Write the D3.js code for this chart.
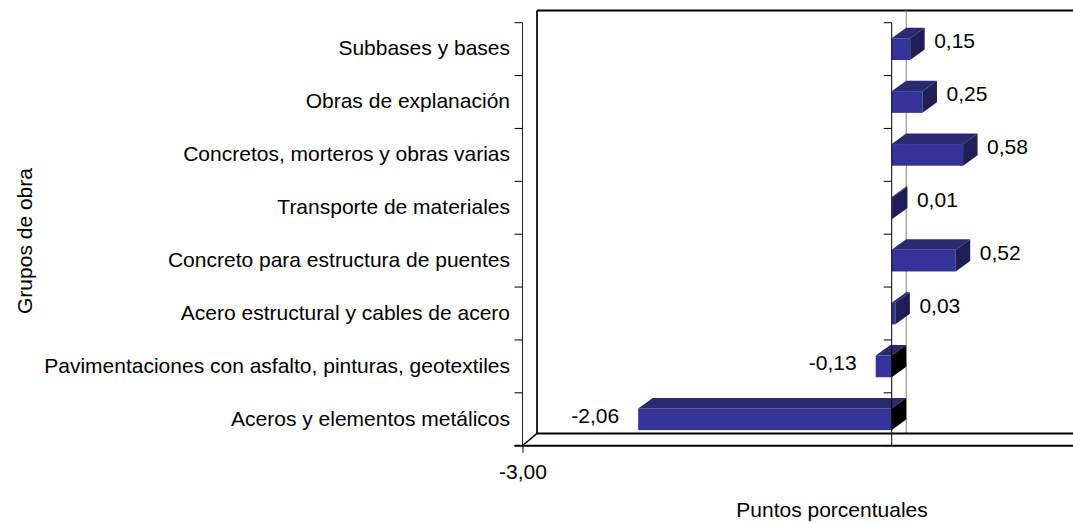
<!DOCTYPE html>
<html>
<head>
<meta charset="utf-8">
<script src="https://cdn.jsdelivr.net/npm/d3@7"></script>
<style>
  body { margin: 0; background: #fff; }
  svg { display: block; }
  text { font-family: "Liberation Sans", Arial, sans-serif; fill: #000; }
</style>
</head>
<body>
<svg width="1073" height="523"></svg>
<script>
var categories = [
  "Subbases y bases",
  "Obras de explanación",
  "Concretos, morteros y obras varias",
  "Transporte de materiales",
  "Concreto para estructura de puentes",
  "Acero estructural y cables de acero",
  "Pavimentaciones con asfalto, pinturas, geotextiles",
  "Aceros y elementos metálicos"
];
var values = [0.15, 0.25, 0.58, 0.01, 0.52, 0.03, -0.13, -2.06];
var xTicks = [-3];
var xTitle = "Puntos porcentuales";
var yTitle = "Grupos de obra";

var svg = d3.select("svg"),
    plot = {left: 522.5, top: 22.7, bottom: 445.7},
    depth = {dx: 14.5, dy: -12.3},   // walls / floor
    barDepth = {dx: 14.5, dy: -10.5},
    fontSize = 21;

var locale = d3.formatLocale({decimal: ",", thousands: ".", grouping: [3], currency: ["$", ""], minus: "-"});
var fmt = locale.format(".2f");

var x = d3.scaleLinear().domain([-3, 1.5]).range([plot.left, plot.left + 4.5 * 123.07]);
var y = d3.scaleBand().domain(categories).range([plot.top, plot.bottom])
    .paddingInner(0.59).paddingOuter(0.295);

var right = 1080;

// back wall
svg.append("line")
    .attr("x1", plot.left + depth.dx).attr("x2", right)
    .attr("y1", plot.top + depth.dy).attr("y2", plot.top + depth.dy)
    .attr("stroke", "#000").attr("stroke-width", 2);
svg.append("line")
    .attr("x1", plot.left + depth.dx).attr("x2", plot.left + depth.dx)
    .attr("y1", plot.top + depth.dy).attr("y2", plot.bottom + depth.dy)
    .attr("stroke", "#000").attr("stroke-width", 1.7);

// zero gridline on back wall
svg.append("line")
    .attr("x1", x(0) + depth.dx).attr("x2", x(0) + depth.dx)
    .attr("y1", plot.top + depth.dy).attr("y2", plot.bottom + depth.dy)
    .attr("stroke", "#808080").attr("stroke-width", 1);

// floor
svg.append("line")
    .attr("x1", plot.left + depth.dx).attr("x2", right)
    .attr("y1", plot.bottom + depth.dy).attr("y2", plot.bottom + depth.dy)
    .attr("stroke", "#000").attr("stroke-width", 2);
svg.append("line")
    .attr("x1", plot.left).attr("x2", plot.left + depth.dx)
    .attr("y1", plot.bottom).attr("y2", plot.bottom + depth.dy)
    .attr("stroke", "#000").attr("stroke-width", 1.5);

// bars
var bars = svg.selectAll(".bar")
    .data(categories.map(function(c, i) { return {cat: c, v: values[i]}; }))
  .enter().append("g")
    .attr("class", "bar");

bars.each(function(d) {
  var g = d3.select(this),
      x0 = x(Math.min(0, d.v)),
      x1 = x(Math.max(0, d.v)),
      y0 = y(d.cat),
      h = y.bandwidth(),
      dx = barDepth.dx, dy = barDepth.dy;
  g.append("rect")
      .attr("x", x0).attr("y", y0)
      .attr("width", x1 - x0).attr("height", h)
      .attr("fill", "#333399");
  g.append("polygon")
      .attr("points", [[x0, y0], [x0 + dx, y0 + dy], [x1 + dx, y0 + dy], [x1, y0]].join(" "))
      .attr("fill", "#2a2a70");
  g.append("polygon")
      .attr("points", [[x1, y0], [x1 + dx, y0 + dy], [x1 + dx, y0 + h + dy], [x1, y0 + h]].join(" "))
      .attr("fill", d.v >= 0 ? "#1f1f57" : "#000");
});

// value labels
bars.append("text")
    .attr("x", function(d) { return d.v >= 0 ? x(d.v) + 24 : x(d.v) - 19; })
    .attr("y", function(d) { return y(d.cat) + y.bandwidth() / 2 + (d.v >= 0 ? -8 : -4); })
    .attr("dy", "0.35em")
    .attr("text-anchor", function(d) { return d.v >= 0 ? "start" : "end"; })
    .style("font-size", fontSize + "px")
    .text(function(d) { return fmt(d.v); });

// front category lines with ticks (left edge and at zero)
var bounds = d3.range(categories.length + 1).map(function(k) { return plot.top + k * y.step(); });
[plot.left, x(0)].forEach(function(px, j) {
  svg.append("line")
      .attr("x1", px).attr("x2", px)
      .attr("y1", plot.top).attr("y2", plot.bottom)
      .attr("stroke", j == 0 ? "#222" : "#000").attr("stroke-width", 1);
  svg.selectAll(".tk" + j)
      .data(bounds)
    .enter().append("line")
      .attr("x1", px - 8).attr("x2", px)
      .attr("y1", function(d) { return d; }).attr("y2", function(d) { return d; })
      .attr("stroke", "#000").attr("stroke-width", 1);
});

// category labels
svg.selectAll(".cat")
    .data(categories)
  .enter().append("text")
    .attr("class", "cat")
    .attr("x", 510)
    .attr("y", function(d) { return y(d) + y.bandwidth() / 2 - 1; })
    .attr("dy", "0.35em")
    .attr("text-anchor", "end")
    .style("font-size", fontSize + "px")
    .text(function(d) { return d; });

// value axis (front floor edge)
var xAxis = d3.axisBottom(x).tickValues(xTicks).tickSize(7).tickPadding(11)
    .tickFormat(function(d) { return fmt(d); });
var ax = svg.append("g")
    .attr("transform", "translate(0," + plot.bottom + ")")
    .call(xAxis);
ax.select(".domain").remove();
ax.selectAll("line").attr("stroke", "#000");
ax.selectAll("text").style("font-size", fontSize + "px").attr("font-family", null).attr("fill", "#000");
ax.attr("font-family", null).attr("font-size", null);

svg.append("line")
    .attr("x1", plot.left - 8).attr("x2", right)
    .attr("y1", plot.bottom).attr("y2", plot.bottom)
    .attr("stroke", "#000").attr("stroke-width", 2);

// titles
svg.append("text")
    .attr("x", 832).attr("y", 517)
    .attr("text-anchor", "middle")
    .style("font-size", fontSize + "px")
    .text(xTitle);

svg.append("text")
    .attr("transform", "translate(32,241)rotate(-90)")
    .attr("text-anchor", "middle")
    .style("font-size", fontSize + "px")
    .text(yTitle);
</script>
</body>
</html>
